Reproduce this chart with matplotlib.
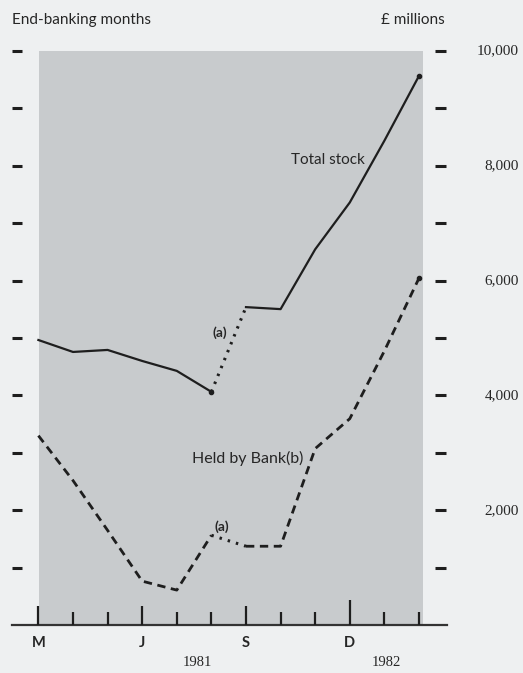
import matplotlib
matplotlib.use('Agg')
import matplotlib.pyplot as plt
import matplotlib.transforms as mtransforms
import numpy as np

# end-banking months, March 1981 to February 1982
months = ['M', 'A', 'M', 'J', 'J', 'A', 'S', 'O', 'N', 'D', 'J', 'F']
month_labels = {0: 'M', 3: 'J', 6: 'S', 9: 'D'}
years = {'1981': 4.6, '1982': 10.05}

# £ millions
total_stock = [4965, 4757, 4792, 4600, 4427, 4062, 5538, 5503, 6545, 7361, 8437, 9566]
held_by_bank = [3299, 2517, 1649, 764, 608, 1563, 1372, 1372, 3073, 3594, 4774, 6042]

y_ticks = list(range(1000, 10001, 1000))
y_labels = {2000: '2,000', 4000: '4,000', 6000: '6,000', 8000: '8,000', 10000: '10,000'}

page = '#eef0f1'
shade = '#c8cbcd'
ink = '#1e1e1e'
text_c = '#262626'
sans = ['Lato', 'DejaVu Sans']
serif = ['Liberation Serif', 'DejaVu Serif']

x = np.arange(len(months))

fig = plt.figure(figsize=(5.23, 6.73), dpi=100)
fig.set_facecolor(page)
ax = fig.add_axes([12 / 523, 48 / 673, 435 / 523, 574 / 673])
ax.set_xlim(-0.763, 11.81)
ax.set_ylim(0, 10000)
ax.patch.set_visible(False)
for s in ['top', 'left', 'right']:
    ax.spines[s].set_visible(False)
ax.spines['bottom'].set_color('#333333')
ax.spines['bottom'].set_linewidth(1.6)
ax.set_xticks([])
ax.set_yticks([])

# shaded panel
ax.axvspan(0.03, 11.12, ymin=0, ymax=1, color=shade, zorder=0, lw=0)

# total stock: solid, dotted break (a), solid
ax.plot(x[:6], total_stock[:6], color=ink, lw=1.6, zorder=3)
ax.plot(x[5:7], total_stock[5:7], color=ink, lw=2.2, ls=(0, (0.8, 2.0)), zorder=3)
ax.plot(x[6:], total_stock[6:], color=ink, lw=1.6, zorder=3)
ax.plot([x[5], x[-1]], [total_stock[5], total_stock[-1]], 'o', color=ink, ms=3, zorder=4)

# held by bank: dashed, dotted break (a), dashed
ax.plot(x[:6], held_by_bank[:6], color=ink, lw=2, ls=(0, (3, 2)), zorder=3)
ax.plot(x[5:7], held_by_bank[5:7], color=ink, lw=2.2, ls=(0, (0.8, 2.0)), zorder=3)
ax.plot(x[6:], held_by_bank[6:], color=ink, lw=2, ls=(0, (3, 2)), zorder=3)
ax.plot([x[-1]], [held_by_bank[-1]], 'o', color=ink, ms=3, zorder=4)

# y tick dashes, both sides
ax.hlines(y_ticks, -0.763, -0.474, color=ink, lw=2.2, clip_on=False)
ax.hlines(y_ticks, 11.46, 11.78, color=ink, lw=2.2, clip_on=False)
lab_tr = mtransforms.blended_transform_factory(fig.transFigure, ax.transData)
for v, t in y_labels.items():
    ax.text(519 / 523, v, t, transform=lab_tr, ha='right', va='center',
            fontsize=11, family=serif, color=text_c)

# month ticks rising from the baseline
xt = ax.get_xaxis_transform()
heights = []
for i in x:
    if i == 9:
        heights.append(25 / 574)
    elif i in month_labels:
        heights.append(19 / 574)
    else:
        heights.append(13 / 574)
ax.vlines(x, 0, heights, transform=xt, color=ink, lw=1.6, zorder=4)
for i, t in month_labels.items():
    ax.text(i, -18 / 574, t, transform=xt, ha='center', va='center',
            fontsize=10.5, family=sans, weight='bold', color=text_c)
for t, xi in years.items():
    ax.text(xi, -38 / 574, t, transform=xt, ha='center', va='center',
            fontsize=10.5, family=serif, color=text_c)

# annotations
ax.text(8.37, (627 - 160) / 57.6 * 1000, 'Total stock', ha='center', va='center',
        fontsize=11, family=sans, color=text_c)
ax.text(5.25, (627 - 334) / 57.6 * 1000, '(a)', ha='center', va='center',
        fontsize=10, family=sans, weight='bold', color=text_c)
ax.text(6.05, (627 - 460) / 57.6 * 1000, 'Held by Bank(b)', ha='center', va='center',
        fontsize=11.5, family=sans, color=text_c)
ax.text(5.3, (627 - 528) / 57.6 * 1000, '(a)', ha='center', va='center',
        fontsize=10, family=sans, weight='bold', color=text_c)

# headings
fig.text(12 / 523, 1 - 20 / 673, 'End-banking months', ha='left', va='center',
         fontsize=11, family=sans, color=text_c)
fig.text(445 / 523, 1 - 20 / 673, '£ millions', ha='right', va='center',
         fontsize=11, family=sans, color=text_c)

fig.savefig('out.png', dpi=100, facecolor=page)
